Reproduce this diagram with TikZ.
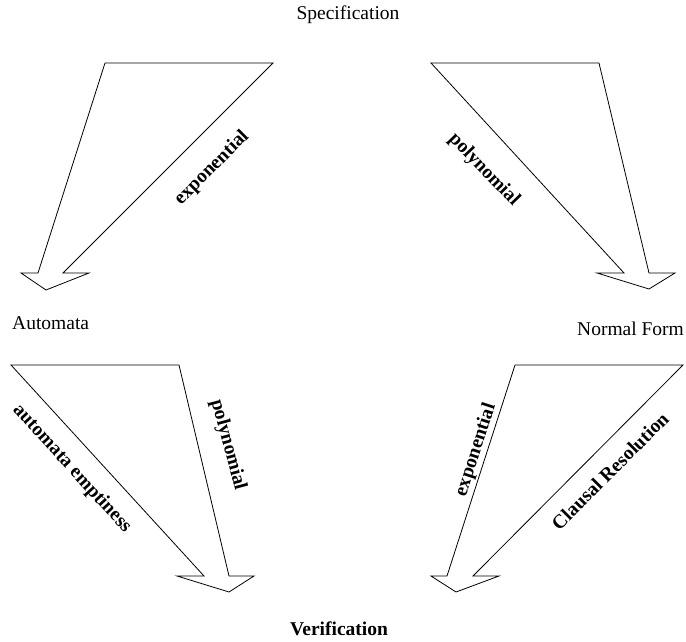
\documentclass[tikz,border=0pt]{standalone}
\usepackage{fontspec}
\setmainfont{Liberation Serif}
\begin{document}
\begin{tikzpicture}[x=1pt,y=-1pt,
  wedge/.style={draw=black, line width=0.8pt, line join=miter, fill=white},
  place/.style={font=\fontsize{19.5}{23}\selectfont, inner sep=0pt},
  cost/.style={font=\fontsize{19.5}{23}\selectfont\bfseries, inner sep=0pt}]
\useasboundingbox (0,0) rectangle (686,642);

% top-left wedge arrow (Specification -> Automata)
\draw[wedge] (105,63) -- (273,63) -- (63,273) -- (89,273) -- (46,290) -- (21,273) -- (38,273) -- cycle;
% top-right wedge arrow (Specification -> Normal Form)
\draw[wedge] (431,63) -- (599,63) -- (649,273) -- (675,273) -- (649,289) -- (597,273) -- (624,273) -- cycle;
% bottom-left wedge arrow (Automata -> Verification)
\draw[wedge] (11,365) -- (179,365) -- (229,576) -- (254,576) -- (229,592) -- (177,576) -- (204,576) -- cycle;
% bottom-right wedge arrow (Normal Form -> Verification)
\draw[wedge] (515,365) -- (683,365) -- (473,576) -- (499,576) -- (456,592) -- (431,576) -- (447,576) -- cycle;

\node[place, anchor=base] (spec) at (348,20) {Specification};
\node[place, anchor=base west] (auto) at (12,329) {Automata};
\node[place, anchor=base west] (nf) at (577,335) {Normal Form};
\node[cost, anchor=base] (ver) at (339,635) {Verification};

\node[cost, rotate=45] (l1) at (212,168) {exponential};
\node[cost, rotate=-46] (l2) at (484,170) {polynomial};
\node[cost, rotate=-47.6] (l3) at (72,469) {automata emptiness};
\node[cost, rotate=-75] (l4) at (228,445) {polynomial};
\node[cost, rotate=72] (l5) at (476,450) {exponential};
\node[cost, rotate=45] (l6) at (610,471) {Clausal Resolution};
\end{tikzpicture}
\end{document}
